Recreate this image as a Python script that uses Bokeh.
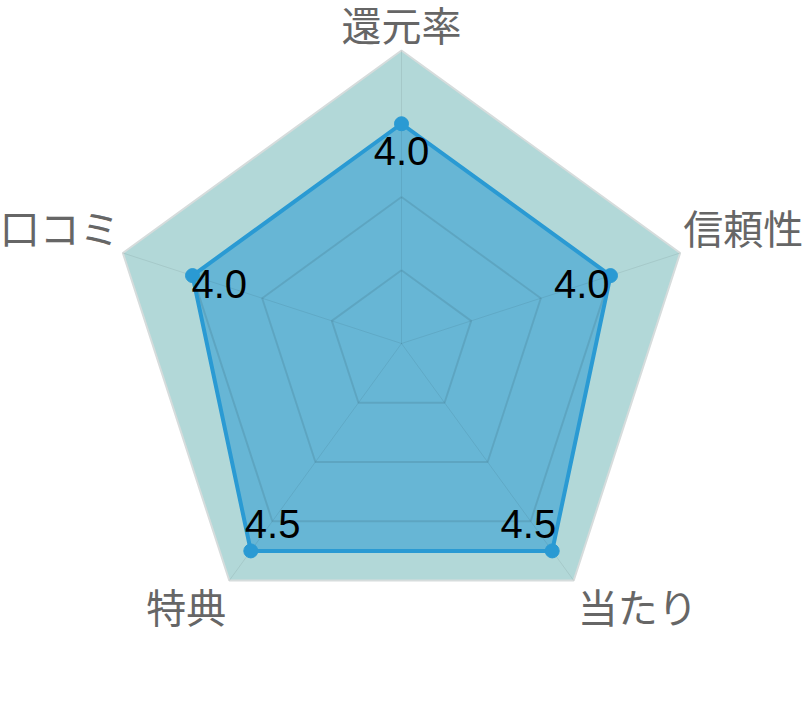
import math
from bokeh.plotting import figure
from bokeh.core.properties import value
from bokeh.embed import file_html
from bokeh.resources import INLINE

# ---- data ----
categories = ["還元率", "信頼性", "当たり", "特典", "口コミ"]
scores = [4.0, 4.0, 4.5, 4.5, 4.0]
score_labels = ["4.0", "4.0", "4.5", "4.5", "4.0"]
scale_min = 1.0
scale_max = 5.0
ring_levels = [2.0, 3.0, 4.0, 5.0]

# ---- geometry (pixel-based data space, 1 unit = 1 px) ----
W, H = 802, 716
CX, CY = 401, 343          # centre in figure pixels
R = 293.0                  # radius of outer ring in px

n = len(categories)
angles = [math.pi / 2 - 2 * math.pi * i / n for i in range(n)]


def rad(v):
    return (v - scale_min) / (scale_max - scale_min) * R


p = figure(width=W, height=H, output_backend="svg", toolbar_location=None,
           x_range=(-CX, W - CX), y_range=(-(H - CY), CY),
           min_border=0, outline_line_color=None, background_fill_color="white",
           border_fill_color="white")
p.axis.visible = False
p.grid.visible = False

# outer filled pentagon
ox = [R * math.cos(a) for a in angles]
oy = [R * math.sin(a) for a in angles]
p.patch(ox, oy, fill_color="#b2d8d8", line_color="#d6dcdc", line_width=2)

# data polygon fill
dx = [rad(v) * math.cos(a) for v, a in zip(scores, angles)]
dy = [rad(v) * math.sin(a) for v, a in zip(scores, angles)]
p.patch(dx, dy, fill_color="#2a9ad3", fill_alpha=0.55, line_color=None)

# grid rings (inner)
for lv in ring_levels[:-1]:
    r = rad(lv)
    xs = [r * math.cos(a) for a in angles] + [r * math.cos(angles[0])]
    ys = [r * math.sin(a) for a in angles] + [r * math.sin(angles[0])]
    p.line(xs, ys, line_color="black", line_alpha=0.09, line_width=2)

# spokes
p.multi_line([[0, x] for x in ox], [[0, y] for y in oy],
             line_color="black", line_alpha=0.07, line_width=1)

# data outline + points
p.line(dx + [dx[0]], dy + [dy[0]], line_color="#2a9ad3", line_width=4)
p.scatter(dx, dy, size=14, fill_color="#2a9ad3", line_color="#2a9ad3")

# value labels
for x, y, a, t in zip(dx, dy, angles, score_labels):
    c, s = math.cos(a), math.sin(a)
    if abs(c) < 0.1:
        align, xo, yo = "center", 0, 27
    elif s > 0:
        align = "right" if c > 0 else "left"
        xo, yo = -1, 8
    else:
        align = "right" if c > 0 else "left"
        xo, yo = (4 if c > 0 else -6), -27
    p.text([x], [y], text=[t], text_align=align, text_baseline="middle",
           x_offset=xo, y_offset=yo, text_font=value("Liberation Sans"),
           text_font_size="40px", text_color="black")

# category labels
for cat, a in zip(categories, angles):
    c, s = math.cos(a), math.sin(a)
    x, y = R * math.cos(a), R * math.sin(a)
    if abs(c) < 0.1:
        align, xo, yo = "center", 0, -27
    elif s > 0:
        align = "left" if c > 0 else "right"
        xo, yo = (3 if c > 0 else -3), -26
    else:
        align = "left" if c > 0 else "right"
        xo, yo = (4 if c > 0 else -3), 25
    p.text([x], [y], text=[cat], text_align=align, text_baseline="middle",
           x_offset=xo, y_offset=yo, text_font=value("Noto Sans CJK JP"),
           text_font_size="40px", text_color="#666666")

open("out.html", "w").write(file_html(p, INLINE))
